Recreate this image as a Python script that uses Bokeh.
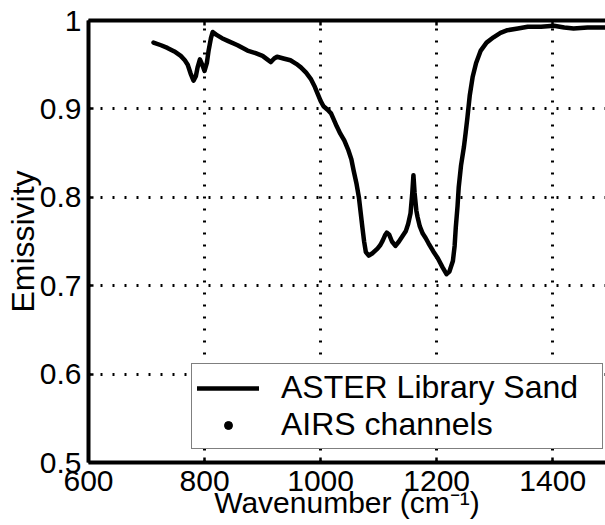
from bokeh.plotting import figure
from bokeh.models import Range1d, LinearAxis, FixedTicker, Legend, LegendItem, Title
from bokeh.embed import file_html
from bokeh.resources import INLINE

# ASTER library sand emissivity spectrum
wavenumber = [712, 725, 736, 748, 759, 766, 771, 776, 781, 785, 788, 792, 796, 800,
              804, 807, 811, 814, 820, 830, 840, 857, 874, 888, 900, 908, 914, 920,
              925, 936, 948, 958, 966, 975, 983, 990, 995, 1000, 1005, 1012, 1018,
              1022, 1028, 1034, 1041, 1048, 1053, 1057, 1062, 1066, 1069, 1072, 1075,
              1078, 1083, 1090, 1098, 1103, 1107, 1111, 1114, 1118, 1123, 1129, 1135,
              1141, 1147, 1151, 1155, 1158, 1160, 1162, 1165, 1167, 1171, 1176, 1181,
              1186, 1194, 1202, 1210, 1217, 1222, 1228, 1231, 1233, 1236, 1238, 1242,
              1247, 1250, 1253, 1257, 1262, 1268, 1276, 1286, 1298, 1310, 1322, 1340,
              1357, 1380, 1402, 1420, 1436, 1460, 1483, 1500]
emissivity = [0.975, 0.972, 0.969, 0.965, 0.960, 0.955, 0.950, 0.940, 0.932, 0.937,
              0.947, 0.956, 0.950, 0.943, 0.952, 0.966, 0.980, 0.987, 0.984, 0.980,
              0.977, 0.972, 0.966, 0.963, 0.960, 0.956, 0.953, 0.957, 0.959, 0.957,
              0.955, 0.951, 0.947, 0.941, 0.934, 0.925, 0.917, 0.909, 0.903, 0.899,
              0.895, 0.889, 0.880, 0.872, 0.864, 0.853, 0.843, 0.830, 0.815, 0.800,
              0.783, 0.766, 0.750, 0.738, 0.734, 0.737, 0.742, 0.746, 0.751, 0.757,
              0.760, 0.758, 0.750, 0.745, 0.750, 0.756, 0.762, 0.770, 0.782, 0.805,
              0.825, 0.805, 0.785, 0.778, 0.767, 0.759, 0.754, 0.748, 0.739, 0.731,
              0.721, 0.713, 0.716, 0.728, 0.745, 0.766, 0.790, 0.811, 0.836, 0.857,
              0.873, 0.890, 0.915, 0.936, 0.952, 0.966, 0.975, 0.981, 0.986, 0.989,
              0.991, 0.993, 0.993, 0.994, 0.992, 0.991, 0.992, 0.992, 0.992]

# AIRS channels: no markers are visible in the picture (legend entry only)
airs_wavenumber = [float("nan")]
airs_emissivity = [float("nan")]

x_ticks = [600, 800, 1000, 1200, 1400]
y_ticks = [0.5, 0.6, 0.7, 0.8, 0.9, 1.0]
y_tick_labels = ["0.5", "0.6", "0.7", "0.8", "0.9", "1"]
x_title = "Wavenumber (cm\u207b\u00b9)"
y_title = "Emissivity"

FONT = "Liberation Sans"

p = figure(width=605, height=525, output_backend="svg", toolbar_location=None,
           x_range=Range1d(600, 1491), y_range=Range1d(0.5, 1.0),
           min_border_left=88, min_border_right=0, min_border_top=20,
           min_border_bottom=63)
p.outline_line_color = None
p.background_fill_color = "white"
p.border_fill_color = "white"

for ax in (p.xaxis[0], p.yaxis[0]):
    ax.axis_line_width = 4
    ax.axis_line_color = "black"
    ax.major_tick_in = 5
    ax.major_tick_out = 0
    ax.major_tick_line_width = 2.5
    ax.major_tick_line_color = "black"
    ax.minor_tick_line_color = None
    ax.major_label_text_font = FONT
    ax.major_label_text_font_size = "30px"
    ax.major_label_text_color = "black"

p.xaxis[0].ticker = FixedTicker(ticks=x_ticks)
p.yaxis[0].ticker = FixedTicker(ticks=y_ticks)
p.yaxis[0].major_label_overrides = dict(zip(y_ticks, y_tick_labels))
p.xaxis[0].major_label_standoff = 8
p.yaxis[0].major_label_standoff = 7

p.yaxis[0].axis_label = y_title
p.yaxis[0].axis_label_text_font = FONT
p.yaxis[0].axis_label_text_font_size = "32px"
p.yaxis[0].axis_label_text_font_style = "normal"
p.yaxis[0].axis_label_text_color = "black"
p.yaxis[0].axis_label_standoff = -4

top = LinearAxis(ticker=FixedTicker(ticks=x_ticks), major_label_text_color=None,
                 major_label_text_font_size="1px",
                 major_tick_in=5, major_tick_out=0, major_tick_line_width=2.5,
                 axis_line_width=4, major_label_standoff=0,
                 minor_tick_line_color=None)
p.add_layout(top, "above")

for g in (p.xgrid[0], p.ygrid[0]):
    g.grid_line_color = "black"
    g.grid_line_dash = "2 10"
    g.grid_line_width = 3
p.xgrid[0].ticker = FixedTicker(ticks=x_ticks)
p.ygrid[0].ticker = FixedTicker(ticks=y_ticks)

r1 = p.line(wavenumber, emissivity, line_width=4.5, color="black",
            line_join="round", line_cap="round")
r2 = p.scatter(airs_wavenumber, airs_emissivity, size=4, color="black")

legend = Legend(items=[LegendItem(label="ASTER Library Sand", renderers=[r1]),
                       LegendItem(label="AIRS channels", renderers=[r2])],
                location=(103, 13), label_text_font=FONT,
                label_text_font_size="32px", label_text_color="black",
                border_line_color="black", border_line_width=1.2,
                padding=5, spacing=0, glyph_width=62, label_standoff=22,
                label_width=316, margin=0, background_fill_alpha=1)
p.add_layout(legend)

# x-axis title at the picture's lower edge
p.add_layout(Title(text=x_title, align="center", vertical_align="bottom",
                   standoff=-19, text_font=FONT, text_font_size="30px",
                   text_font_style="normal", text_color="black"), "below")

open("out.html", "w").write(file_html(p, INLINE))
